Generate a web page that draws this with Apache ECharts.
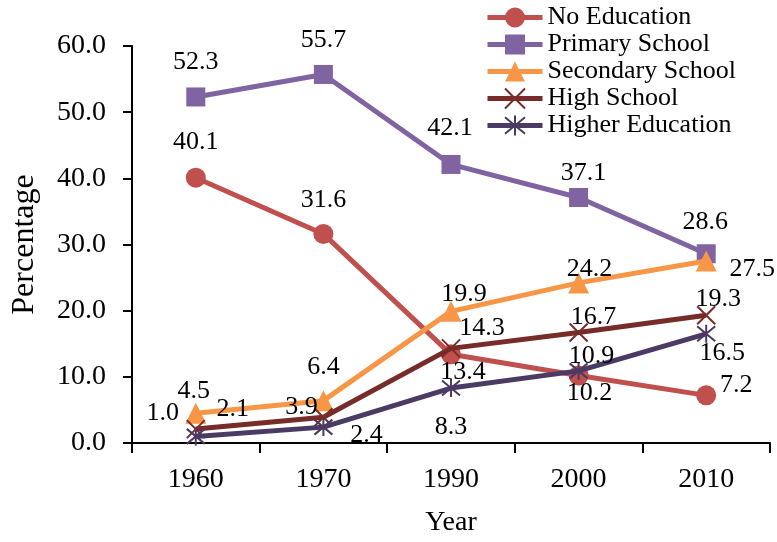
<!DOCTYPE html>
<html>
<head>
<meta charset="utf-8">
<script src="https://cdn.jsdelivr.net/npm/echarts@6/dist/echarts.min.js"></script>
<style>
html,body{margin:0;padding:0;background:#fff;}
#chart{width:777px;height:542px;}
</style>
</head>
<body>
<div id="chart"></div>
<script>
// ---- data ----
const years = ['1960', '1970', '1990', '2000', '2010'];
const seriesNames = ['No Education', 'Primary School', 'Secondary School', 'High School', 'Higher Education'];
const noEducation = [40.1, 31.6, 13.4, 10.2, 7.2];
const primarySchool = [52.3, 55.7, 42.1, 37.1, 28.6];
const secondarySchool = [4.5, 6.4, 19.9, 24.2, 27.5];
const highSchool = [2.1, 3.9, 14.3, 16.7, 19.3];
const higherEducation = [1.0, 2.4, 8.3, 10.9, 16.5];
const yTicks = [0, 10, 20, 30, 40, 50, 60];

// ---- styling (label offsets in px, relative to each point) ----
const labelOffsets = [
  [[0,-35],[0,-34],[12,18],[11,18],[30,-10]],
  [[0,-35],[0,-34],[-1,-36],[5,-24],[-1,-32]],
  [[-2,-22],[0,-33],[13,-17],[11,-14],[46,8]],
  [[37,-20],[-22,-10],[31,-20],[15,-15],[12,-16]],
  [[-33,-23],[43,8],[0,39],[13,-15],[16,19]]
];
const colors = ['#C0504D', '#8064A2', '#F79646', '#772C2A', '#4B3A63'];
const symbols = [
  'circle',
  'rect',
  'triangle',
  'path://M0,0L20,20M20,0L0,20',
  'path://M0,0L20,20M20,0L0,20M10,-2L10,22'
];
const symbolSizes = [20, 19, 21, 18, 18];
const FONT = '"Liberation Serif", "Times New Roman", serif';

const allData = [noEducation, primarySchool, secondarySchool, highSchool, higherEducation];

const series = allData.map((vals, si) => ({
  name: seriesNames[si],
  type: 'line',
  data: vals.map((v, i) => ({
    value: v,
    label: { offset: labelOffsets[si][i] }
  })),
  symbol: symbols[si],
  symbolSize: symbolSizes[si],
  lineStyle: { color: colors[si], width: 5 },
  itemStyle: { color: colors[si], borderColor: colors[si], borderWidth: (si >= 3 ? 2 : 0) },
  label: {
    show: true,
    position: 'inside',
    color: '#000',
    fontFamily: FONT,
    fontSize: 26,
    formatter: p => Number(p.value).toFixed(1)
  },
  emphasis: { disabled: true },
  z: 2 + si
}));

const chart = echarts.init(document.getElementById('chart'), null, { renderer: 'canvas' });
chart.setOption({
  animation: false,
  backgroundColor: '#fff',
  textStyle: { fontFamily: FONT },
  grid: { left: 132, right: 7, top: 46, bottom: 99, containLabel: false, outerBoundsMode: 'none' },
  legend: {
    orient: 'vertical',
    left: 485,
    top: 4,
    padding: 0,
    itemWidth: 55,
    itemHeight: 25,
    itemGap: 0,
    lineStyle: { width: 5 },
    textStyle: { fontFamily: FONT, fontSize: 26, color: '#000', lineHeight: 27 },
    data: seriesNames
  },
  xAxis: {
    type: 'category',
    data: years,
    boundaryGap: true,
    name: 'Year',
    nameLocation: 'middle',
    nameGap: 66,
    nameTextStyle: { fontFamily: FONT, fontSize: 28, color: '#000' },
    axisLine: { show: true, lineStyle: { color: '#000', width: 2 } },
    axisTick: { show: true, length: 10, lineStyle: { color: '#000', width: 2 } },
    axisLabel: { fontFamily: FONT, fontSize: 28, color: '#000', margin: 23 },
    splitLine: { show: false }
  },
  yAxis: {
    type: 'value',
    min: yTicks[0],
    max: yTicks[yTicks.length - 1],
    interval: yTicks[1] - yTicks[0],
    name: 'Percentage',
    nameLocation: 'middle',
    nameRotate: 90,
    nameGap: 91,
    nameTextStyle: { fontFamily: FONT, fontSize: 32, color: '#000' },
    axisLine: { show: true, lineStyle: { color: '#000', width: 2 } },
    axisTick: { show: true, length: 9, lineStyle: { color: '#000', width: 2 } },
    axisLabel: { fontFamily: FONT, fontSize: 28, color: '#000', margin: 26, formatter: v => v.toFixed(1) },
    splitLine: { show: false }
  },
  series: series
});
</script>
</body>
</html>
